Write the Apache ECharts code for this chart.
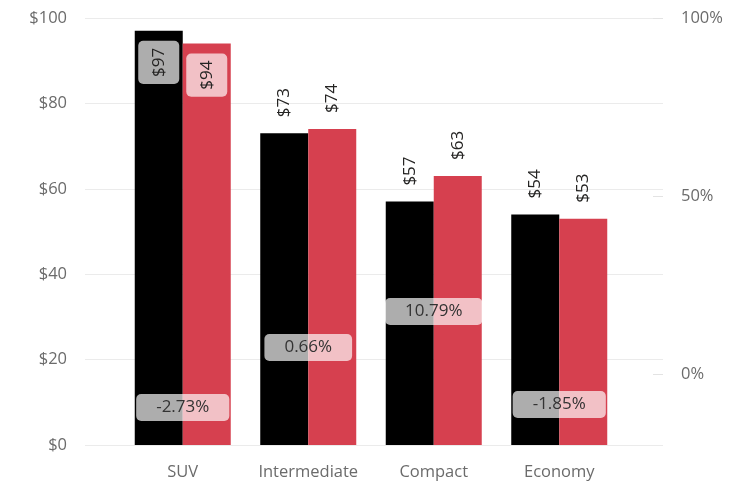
<!DOCTYPE html>
<html>
<head>
<meta charset="utf-8">
<script src="https://cdn.jsdelivr.net/npm/echarts@6/dist/echarts.min.js"></script>
<style>
  html, body { margin: 0; padding: 0; background: #ffffff; }
  #chart { width: 746px; height: 485px; }
</style>
</head>
<body>
<div id="chart"></div>
<script>
// Average daily rate by car class, previous vs current period
const categories = ['SUV', 'Intermediate', 'Compact', 'Economy'];
const previousRate = [97, 73, 57, 54];
const currentRate = [94, 74, 63, 53];
const changePct = [-2.73, 0.66, 10.79, -1.85];
const rateTicks = [0, 20, 40, 60, 80, 100];
const pctTicks = [0, 50, 100];

const FONT = '"Open Sans", "Noto Sans", sans-serif';
const BLACK = '#000000';
const RED = '#D6404F';
const BOX = 'rgba(255,255,255,0.68)';
const AXIS_GREY = '#6b6b6b';

// Value labels above the bars; the tallest pair sits inside the bar top
function valueLabels(values) {
  return values.map(function (v, i) {
    const item = { value: v };
    if (categories[i] === 'SUV') {
      item.label = {
        position: 'insideTop',
        align: 'right',
        distance: 10,
        backgroundColor: BOX,
        borderRadius: 5,
        padding: [12, 7]
      };
    }
    return item;
  });
}

const barLabel = {
  show: true,
  position: 'top',
  rotate: 90,
  align: 'left',
  verticalAlign: 'middle',
  distance: 16,
  fontFamily: FONT,
  fontSize: 17,
  color: '#252423',
  formatter: function (p) { return '$' + p.value; }
};

const chart = echarts.init(document.getElementById('chart'), null, { renderer: 'canvas' });

chart.setOption({
  animation: false,
  backgroundColor: '#ffffff',
  grid: [
    { left: 85, right: 83, top: 18, bottom: 40 },
    { left: 120, right: 124, top: 18, bottom: 40 }
  ],
  xAxis: [
    { gridIndex: 0, type: 'category', data: categories, show: false },
    {
      gridIndex: 1, type: 'category', data: categories,
      axisLine: { show: false },
      axisTick: { show: false },
      axisLabel: { interval: 0, hideOverlap: false, margin: 19, fontFamily: FONT, fontSize: 16.5, color: AXIS_GREY }
    }
  ],
  yAxis: [
    {
      gridIndex: 0, type: 'value', position: 'left',
      min: rateTicks[0], max: rateTicks[rateTicks.length - 1], interval: 20,
      axisLine: { show: false },
      axisTick: { show: false },
      axisLabel: {
        margin: 18, fontFamily: FONT, fontSize: 16.5, color: AXIS_GREY,
        formatter: function (v) { return '$' + v; }
      },
      splitLine: { lineStyle: { color: '#ebebeb', width: 1 } }
    },
    {
      gridIndex: 0, type: 'value', position: 'right',
      min: -20, max: 100,
      axisLine: { show: false },
      axisTick: { show: true, inside: true, length: 10, customValues: pctTicks, lineStyle: { color: '#e3e3e3' } },
      axisLabel: {
        margin: 18, fontFamily: FONT, fontSize: 16.5, color: AXIS_GREY,
        customValues: pctTicks,
        formatter: function (v) { return v + '%'; }
      },
      splitLine: { show: false }
    },
    { gridIndex: 1, type: 'value', min: 0, max: 100, show: false },
    { gridIndex: 1, type: 'value', min: -20, max: 100, show: false }
  ],
  series: [
    {
      name: 'Previous', type: 'bar', xAxisIndex: 1, yAxisIndex: 2,
      barGap: 0, barCategoryGap: '23.5%',
      itemStyle: { color: BLACK },
      label: barLabel,
      data: valueLabels(previousRate)
    },
    {
      name: 'Current', type: 'bar', xAxisIndex: 1, yAxisIndex: 2,
      barGap: 0, barCategoryGap: '23.5%',
      itemStyle: { color: RED },
      label: barLabel,
      data: valueLabels(currentRate)
    },
    {
      name: 'Change', type: 'line', xAxisIndex: 1, yAxisIndex: 3,
      symbol: 'circle', symbolSize: 1,
      itemStyle: { color: 'rgba(0,0,0,0)' },
      lineStyle: { width: 0, opacity: 0 },
      z: 5,
      data: changePct.map(function (v) {
        return {
          value: v,
          label: { position: v < 0 ? 'bottom' : 'top' }
        };
      }),
      label: {
        show: true,
        distance: 10,
        fontFamily: FONT,
        fontSize: 17,
        color: '#333333',
        backgroundColor: BOX,
        borderRadius: 5,
        padding: [5, 20],
        formatter: function (p) { return p.value.toFixed(2) + '%'; }
      }
    }
  ]
});
</script>
</body>
</html>
